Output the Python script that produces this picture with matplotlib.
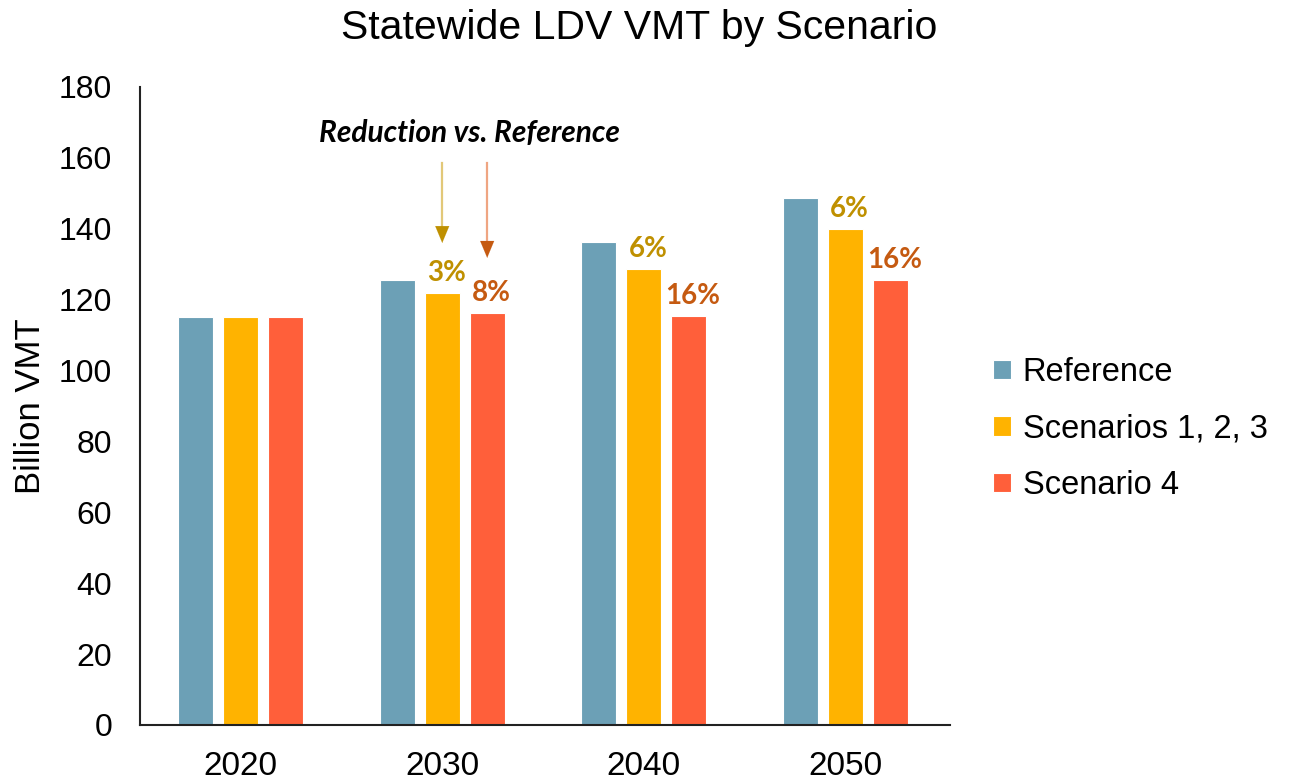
import matplotlib
matplotlib.use("Agg")
import matplotlib.pyplot as plt
import numpy as np

years = ["2020", "2030", "2040", "2050"]
series_names = ["Reference", "Scenarios 1, 2, 3", "Scenario 4"]
reference = [115.2, 125.6, 136.4, 148.8]
scen123 = [115.2, 121.8, 128.7, 139.9]
scen4 = [115.2, 116.2, 115.5, 125.6]
labels123 = ["", "3%", "6%", "6%"]
labels4 = ["", "8%", "16%", "16%"]

colors = ["#6CA0B6", "#FFB300", "#FF5F3A"]
label_colors = ["#BF9000", "#C55A11"]

plt.rcParams["font.family"] = ["Liberation Sans", "DejaVu Sans"]

fig = plt.figure(figsize=(12.92, 7.82), dpi=100)
ax = fig.add_axes([140 / 1292, 1 - 725 / 782, 810 / 1292, 638 / 782])

x = np.arange(len(years))
w = 0.173
step = 0.223
bars = []
for i, (vals, c) in enumerate(zip([reference, scen123, scen4], colors)):
    b = ax.bar(x + (i - 1) * step, vals, width=w, color=c, edgecolor="white",
               linewidth=0.8, label=series_names[i], zorder=2)
    bars.append(b)

# percent reduction labels above the scenario bars
for b, labs, c in zip(bars[1:], [labels123, labels4], label_colors):
    for rect, lab in zip(b, labs):
        if not lab:
            continue
        ax.annotate(lab, (rect.get_x() + rect.get_width() / 2, rect.get_height()),
                    xytext=(3, 5), textcoords="offset points", ha="center", va="bottom",
                    fontsize=20, fontweight="bold", color=c, family=["Lato", "DejaVu Sans"])

# arrows + note
ax.text(1.134, 167, "Reduction vs. Reference", ha="center", va="center", fontsize=21.5,
        fontweight="bold", fontstyle="italic", family=["Lato", "DejaVu Sans"], color="black")
for xi, tip, shaft_c, head_c in [(1.0, 136.0, "#E2C878", "#BF9000"),
                                  (1.223, 131.8, "#EFA582", "#C55A11")]:
    ax.plot([xi, xi], [158.6, tip + 2], color=shaft_c, lw=1.6, zorder=3)
    ax.annotate("", xy=(xi, tip), xytext=(xi, tip + 4.0),
                arrowprops=dict(arrowstyle="-|>,head_length=1.2,head_width=0.5",
                                color=head_c, lw=0.1, shrinkA=0, shrinkB=0))

ax.set_xlim(-0.5, 3.52)
ax.set_ylim(0, 180)
ax.set_yticks(np.arange(0, 181, 20))
ax.set_xticks(x)
ax.set_xticklabels(years)
ax.tick_params(axis="y", length=0, pad=20, labelsize=23)
ax.tick_params(axis="x", length=0, pad=19, labelsize=24)
for s in ["top", "right"]:
    ax.spines[s].set_visible(False)
for s in ["left", "bottom"]:
    ax.spines[s].set_linewidth(1.5)
    ax.spines[s].set_color("#222222")

ax.set_ylabel("Billion VMT", fontsize=25)
ax.yaxis.set_label_coords(-0.115, 0.5)

fig.text(639 / 1292, 1 - 28 / 782, "Statewide LDV VMT by Scenario", ha="center",
         va="center", fontsize=29.5)

fig.legend(loc="center left", bbox_to_anchor=(977 / 1292, 1 - 429 / 782), frameon=False,
           fontsize=23.5, handlelength=0.55, handleheight=0.55, handletextpad=0.35,
           labelspacing=0.78, borderpad=0)

fig.savefig("out.png", dpi=100)
